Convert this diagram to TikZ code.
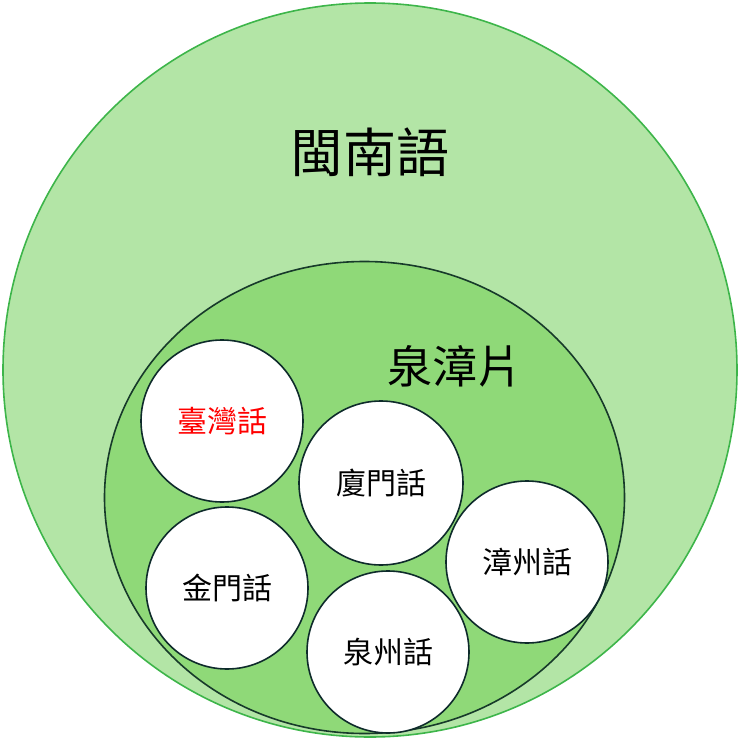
\documentclass[tikz,border=0pt]{standalone}
\usepackage{fontspec}
\newfontfamily\cjk{Noto Sans CJK TC}
\definecolor{outerfill}{HTML}{B3E5A6}
\definecolor{outerline}{HTML}{3DB54A}
\definecolor{innerfill}{HTML}{8FD978}
\definecolor{innerline}{HTML}{173A2A}
\definecolor{dotline}{HTML}{0E2B2B}
\tikzset{
  dialect/.style={circle,draw=dotline,line width=1.6pt,fill=white,minimum size=162pt,inner sep=0pt,font=\cjk\fontsize{30}{34}\selectfont},
}
\begin{document}
\begin{tikzpicture}[x=1pt,y=-1pt]
\useasboundingbox (0,0) rectangle (740,739);
\draw[fill=outerfill,draw=outerline,line width=1.6pt] (370,370) circle (367);
\draw[fill=innerfill,draw=innerline,line width=1.6pt] (364.5,497.5) ellipse [x radius=260, y radius=236];
\node[font=\cjk\fontsize{53}{60}\selectfont] (title) at (370,152) {閩南語};
\node[font=\cjk\fontsize{45}{50}\selectfont] (group) at (455,366) {泉漳片};
\node[dialect,text=red] (tw) at (222,421) {臺灣話};
\node[dialect,minimum size=164pt] (xm) at (381,483) {廈門話};
\node[dialect] (zz) at (527,562) {漳州話};
\node[dialect] (jm) at (227,588) {金門話};
\node[dialect] (qz) at (388,652) {泉州話};
\end{tikzpicture}
\end{document}
